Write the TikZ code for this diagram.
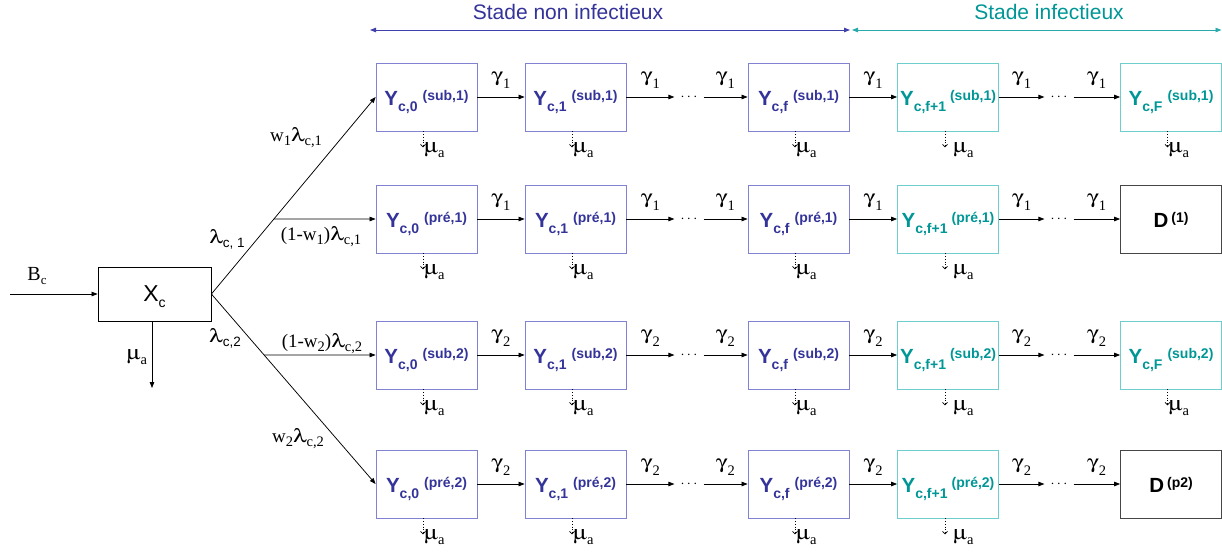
\documentclass[tikz,border=0pt]{standalone}
\usepackage{fontspec}
\usepackage[Symbol]{upgreek}
\setmainfont{Liberation Sans}
\newfontfamily\tms{Liberation Serif}
\usetikzlibrary{arrows.meta,calc}
\definecolor{nblue}{RGB}{51,51,153}
\definecolor{nborder}{RGB}{130,130,210}
\definecolor{tteal}{RGB}{0,150,150}
\definecolor{tborder}{RGB}{110,205,205}
\definecolor{sblue}{RGB}{64,64,170}
\definecolor{steal}{RGB}{40,170,170}
\definecolor{dgray}{RGB}{70,70,70}
\newcommand{\lo}[2][5pt]{\raisebox{-#1}{\fontsize{14.5}{14.5}\selectfont #2}}
\newcommand{\wg}[2][1.3]{\scalebox{#1}[1]{#2}}
\newcommand{\gam}[1]{{\tms\fontsize{19}{19}\selectfont \wg[1.25]{$\upgamma$}\lo[7pt]{#1}}}
\newcommand{\mua}{{\tms\fontsize{20}{20}\selectfont \wg[1.2]{$\upmu$}\lo{a}}}
\newcommand{\lam}{\wg[1.3]{$\uplambda$}}
\newcommand{\Ylab}[3][5pt]{{\bfseries\fontsize{20.5}{20}\selectfont Y\raisebox{-6pt}{\fontsize{14}{14}\selectfont #2}\hspace{#1}\raisebox{5pt}{\fontsize{14}{14}\selectfont (#3)}}}
\newcommand{\Dlab}[1]{{\bfseries\fontsize{20.5}{20}\selectfont D\hspace{3pt}\raisebox{5pt}{\fontsize{14}{14}\selectfont (#1)}}}
\tikzset{
  arr/.style={line width=0.75pt, -{Triangle[length=6pt,width=4.5pt]}},
  muarr/.style={line width=0.7pt, dotted, -{Straight Barb[length=2.5pt,width=5pt]}},
  mulab/.style={anchor=base west, inner sep=1pt, yshift=-5pt},
  glab/.style={anchor=base, inner sep=0pt, yshift=16pt},
  anybox/.style={draw, line width=0.8pt, minimum width=101pt, minimum height=68pt, inner sep=0pt, text height=16pt, text depth=0pt},
  nbox/.style={anybox, draw=nborder, text=nblue},
  tbox/.style={anybox, draw=tborder, text=tteal},
  dbox/.style={anybox, draw=dgray, text=black},
  dotsn/.style={inner xsep=6pt, inner ysep=0pt, font=\fontsize{14}{14}\selectfont},
  lab/.style={anchor=base, inner sep=0pt, font=\tms\fontsize{19}{19}\selectfont},
  stade/.style={line width=0.9pt, {Triangle[length=6pt,width=4.5pt]}-{Triangle[length=6pt,width=4.5pt]}}
}
\newcommand{\mkrow}[4]{%
  \node[nbox] (b#1a) at (426.5,#2) {\Ylab{c,0}{#3}};
  \node[nbox] (b#1b) at (575.5,#2) {\Ylab{c,1}{#3}};
  \node[dotsn] (d#1a) at (689,#2) {$\cdots$};
  \node[nbox] (b#1c) at (798.5,#2) {\Ylab{c,f}{#3}};
  \node[tbox] (b#1d) at (948,#2) {\Ylab[4pt]{c,f+1}{#3}};
  \node[dotsn] (d#1b) at (1059,#2) {$\cdots$};
  \draw[arr] (b#1a) -- node[glab]{\gam{#4}} (b#1b);
  \draw[arr] (b#1b) -- node[glab]{\gam{#4}} (d#1a);
  \draw[arr] (d#1a) -- node[glab]{\gam{#4}} (b#1c);
  \draw[arr] (b#1c) -- node[glab]{\gam{#4}} (b#1d);
  \draw[arr] (b#1d) -- node[glab]{\gam{#4}} (d#1b);
  \draw[muarr] ([xshift=-3.5pt]b#1a.south) -- ++(0,16) node[mulab]{\mua};
  \draw[muarr] ([xshift=-3.5pt]b#1b.south) -- ++(0,16) node[mulab]{\mua};
  \draw[muarr] ([xshift=-3.5pt]b#1c.south) -- ++(0,16) node[mulab]{\mua};
  \draw[muarr] ([xshift=-3pt]b#1d.south) -- ++(0,16) node[mulab, xshift=7pt]{\mua};
}
\begin{document}
\begin{tikzpicture}[x=1pt,y=-1pt]
\useasboundingbox (0,0) rectangle (1222,552);
% stage annotations
\coordinate (s0) at (370,30);
\coordinate (s1) at (850,30);
\coordinate (s2) at (852,30);
\coordinate (s3) at (1221.5,30);
\draw[stade, sblue] (s0) -- (s1);
\draw[stade, steal] (s2) -- (s3);
\node[text=nblue, font=\fontsize{21}{21}\selectfont] (t1) at (568,12) {Stade non infectieux};
\node[text=tteal, font=\fontsize{21}{21}\selectfont] (t2) at (1049,12) {Stade infectieux};
% X_c
\node[draw, line width=0.8pt, minimum width=113pt, minimum height=54pt, inner sep=0pt, text height=14pt, text depth=0pt] (X) at (154.5,294)
  {\fontsize{23}{23}\selectfont X\raisebox{-6pt}{\fontsize{14}{14}\selectfont c}};
\coordinate (bin) at (10,294);
\draw[arr] (bin) -- (X.west);
\node[lab] (bc) at (37,280) {\fontsize{20}{20}\selectfont B\raisebox{-4pt}{\fontsize{13}{13}\selectfont c}};
\coordinate (xout) at (152,388);
\draw[arr] (X.south -| xout) -- (xout);
\node[lab] (xmu) at (137,359) {\mua};
% rows
\mkrow{1}{97}{sub,1}{1}
\mkrow{2}{219}{pré,1}{1}
\mkrow{3}{355}{sub,2}{2}
\mkrow{4}{484}{pré,2}{2}
\node[tbox] (b1e) at (1171,97) {\Ylab{c,F}{sub,1}};
\node[dbox] (b2e) at (1171,219) {\Dlab{1}};
\node[tbox] (b3e) at (1171,355) {\Ylab{c,F}{sub,2}};
\node[dbox] (b4e) at (1171,484) {\Dlab{p2}};
\draw[arr] (d1b) -- node[glab]{\gam{1}} (b1e);
\draw[arr] (d2b) -- node[glab]{\gam{1}} (b2e);
\draw[arr] (d3b) -- node[glab]{\gam{2}} (b3e);
\draw[arr] (d4b) -- node[glab]{\gam{2}} (b4e);
\draw[muarr] ([xshift=-3.5pt]b1e.south) -- ++(0,16) node[mulab]{\mua};
\draw[muarr] ([xshift=-3.5pt]b3e.south) -- ++(0,16) node[mulab]{\mua};
% branches from X_c
\coordinate (br1) at ($(X.east)!0.3807!(b1a.west)$);
\coordinate (br3) at ($(X.east)!0.3211!(b4a.west)$);
\draw[arr] (X.east) -- (b1a.west);
\draw[arr] (X.east) -- (b4a.west);
\draw[arr] (br1) -- (b2a.west);
\draw[arr] (br3) -- (b3a.west);
% branch labels
\node[lab] (l1) at (296,141) {w\lo[4pt]{1}\lam\lo[4pt]{c,1}};
\node[lab] (l2) at (227,243) {\lam\raisebox{-4pt}{\rmfamily\fontsize{13.5}{13.5}\selectfont c, 1}};
\node[lab] (l3) at (321,240) {(1-w\lo[4pt]{1})\lam\lo[4pt]{c,1}};
\node[lab] (l4) at (225,342) {\lam\raisebox{-4pt}{\rmfamily\fontsize{13.5}{13.5}\selectfont c,2}};
\node[lab] (l5) at (322,347) {(1-w\lo[4pt]{2})\lam\lo[4pt]{c,2}};
\node[lab] (l6) at (298,442) {w\lo[4pt]{2}\lam\lo[4pt]{c,2}};
\end{tikzpicture}
\end{document}
